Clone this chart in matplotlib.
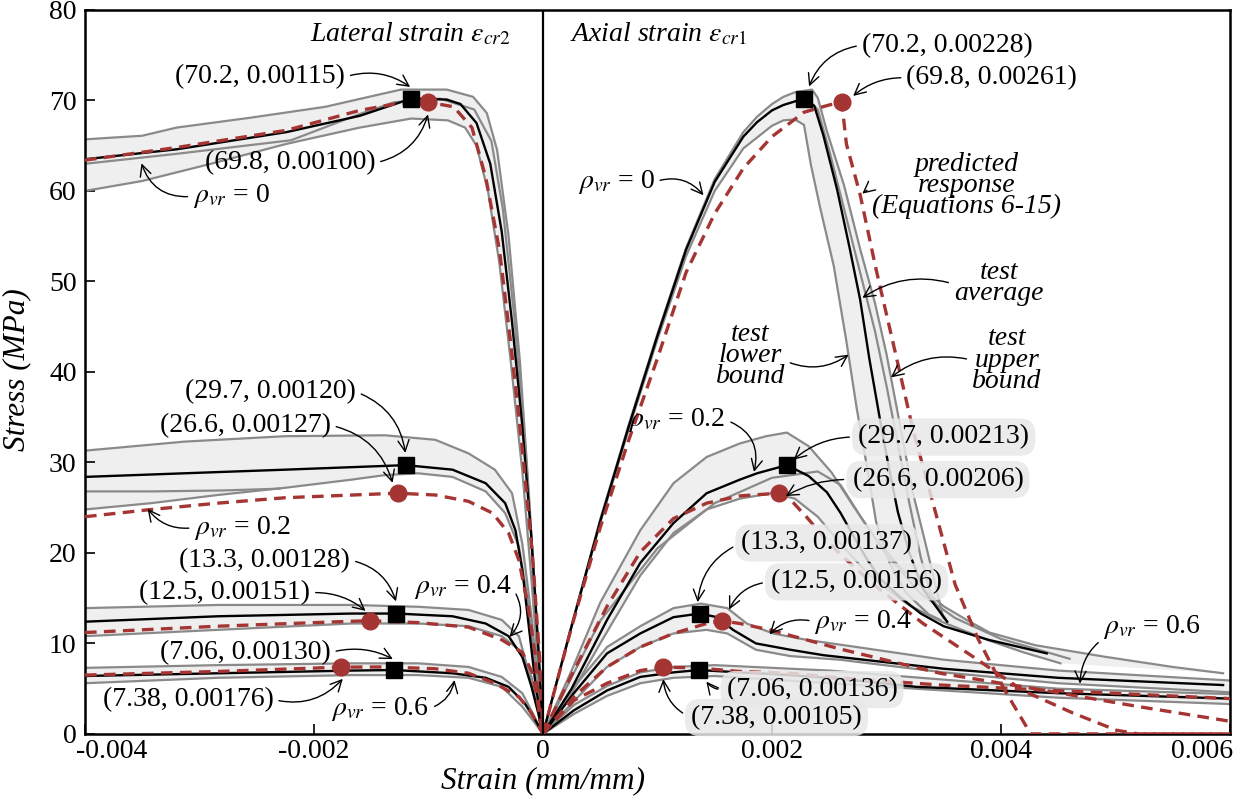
import matplotlib
matplotlib.use("Agg")
import matplotlib.pyplot as plt
import matplotlib.transforms as mtransforms

plt.rcParams['font.family'] = ['Liberation Serif', 'DejaVu Serif']
plt.rcParams['mathtext.fontset'] = 'stix'

# ---------------------------------------------------------------------------
# Stress-strain data: (strain mm/mm, stress MPa); lateral strains negative
# ---------------------------------------------------------------------------
# Lateral, rho_vr = 0
lat0_upper = [(-0.0040, 65.7), (-0.0035, 66.1), (-0.0032, 67.0), (-0.00255, 68.1), (-0.0019, 69.3),
              (-0.00145, 70.6), (-0.00124, 71.2), (-0.00084, 71.2), (-0.00061, 70.4), (-0.00049, 68.6),
              (-0.00040, 64.5), (-0.00030, 55.0), (-0.00020, 41.0), (-0.00012, 26.0), (-0.00006, 13.0), (0.0, 0.0)]
lat0_lower = [(-0.0040, 60.0), (-0.0035, 61.1), (-0.0029, 63.0), (-0.00224, 65.2), (-0.0016, 67.0),
              (-0.00115, 68.0), (-0.00083, 67.8), (-0.00068, 67.0), (-0.00058, 65.0), (-0.00048, 60.0),
              (-0.00038, 52.0), (-0.00028, 41.0), (-0.00018, 29.0), (-0.00010, 17.0), (-0.00004, 7.0), (0.0, 0.0)]
lat0_mid = [(-0.0040, 63.0), (-0.0032, 64.1), (-0.0022, 65.6), (-0.0016, 68.5), (-0.0013, 69.8), (-0.0009, 70.2),
            (-0.0006, 69.0), (-0.00045, 65.5), (-0.00035, 58.0), (-0.00025, 46.0), (-0.00015, 31.0),
            (-0.00007, 16.0), (0.0, 0.0)]
lat0_avg = [(-0.0040, 63.5), (-0.0032, 64.6), (-0.00224, 66.5), (-0.0016, 68.3), (-0.00115, 70.2),
            (-0.00084, 70.1), (-0.00072, 69.6), (-0.00058, 67.5), (-0.00046, 63.0), (-0.00036, 55.5),
            (-0.00027, 45.5), (-0.00018, 34.0), (-0.00010, 21.5), (-0.00004, 9.5), (0.0, 0.0)]
lat0_pred = [(-0.0040, 63.4), (-0.0032, 64.8), (-0.00224, 66.7), (-0.0016, 68.9), (-0.0013, 69.6),
             (-0.0010, 69.8), (-0.00078, 69.3), (-0.00062, 67.0), (-0.00050, 61.5), (-0.00038, 53.5),
             (-0.00028, 43.0), (-0.00018, 31.5), (-0.00009, 19.5), (-0.00003, 8.5), (0.0, 0.0)]

# Lateral, rho_vr = 0.2
lat2_upper = [(-0.0040, 31.3), (-0.00313, 32.3), (-0.00225, 32.9), (-0.00138, 33.0), (-0.00094, 32.5),
              (-0.00065, 31.0), (-0.00042, 29.2), (-0.00027, 26.6), (-0.00018, 21.0), (-0.00010, 13.0),
              (-0.00004, 5.0), (0.0, 0.0)]
lat2_lower = [(-0.0040, 24.8), (-0.00342, 25.5), (-0.00284, 26.4), (-0.00225, 27.2), (-0.00167, 28.1),
              (-0.00138, 28.6), (-0.00109, 28.8), (-0.00079, 28.4), (-0.00050, 26.8), (-0.00033, 24.4),
              (-0.00021, 20.7), (-0.00013, 14.5), (-0.00005, 5.2), (0.0, 0.0)]
lat2_mid = [(-0.0040, 26.8), (-0.0034, 26.8), (-0.0028, 26.9), (-0.0023, 27.1)]
lat2_avg = [(-0.0040, 28.4), (-0.00313, 28.8), (-0.00225, 29.2), (-0.0012, 29.7), (-0.00079, 29.2),
            (-0.0005, 27.7), (-0.00033, 25.5), (-0.00024, 22.5), (-0.00018, 18.1), (-0.00013, 12.6),
            (-0.00007, 6.0), (0.0, 0.0)]
lat2_pred = [(-0.0040, 24.0), (-0.00342, 24.8), (-0.00284, 25.5), (-0.00225, 26.1), (-0.00127, 26.6),
             (-0.00094, 26.4), (-0.00065, 25.7), (-0.00044, 24.4), (-0.0003, 22.2), (-0.00021, 19.2),
             (-0.00013, 14.1), (-0.00007, 9.0), (-0.00003, 1.7), (0.0, 0.0)]

# Lateral, rho_vr = 0.4
lat4_upper = [(-0.0040, 13.9), (-0.00284, 14.25), (-0.00167, 14.25), (-0.00109, 14.05), (-0.00065, 13.7),
              (-0.00036, 12.6), (-0.00021, 10.8), (-0.00013, 7.1), (-0.00005, 2.7), (0.0, 0.0)]
lat4_lower = [(-0.0040, 10.8), (-0.00284, 11.5), (-0.00167, 12.2), (-0.00109, 12.2), (-0.00065, 11.9),
              (-0.00036, 10.8), (-0.00021, 9.3), (-0.0001, 6.3), (-0.00004, 2.3), (0.0, 0.0)]
lat4_avg = [(-0.0040, 12.4), (-0.00284, 13.0), (-0.00167, 13.3), (-0.00128, 13.3), (-0.00079, 13.0),
            (-0.0005, 12.2), (-0.0003, 10.8), (-0.00018, 8.5), (-0.0001, 5.2), (-0.00004, 2.3), (0.0, 0.0)]
lat4_pred = [(-0.0040, 11.2), (-0.00284, 11.9), (-0.00167, 12.45), (-0.00151, 12.5), (-0.00109, 12.3),
             (-0.00065, 11.8), (-0.00036, 10.4), (-0.00018, 9.0), (-0.00009, 6.7), (-0.00003, 2.3), (0.0, 0.0)]

# Lateral, rho_vr = 0.6
lat6_upper = [(-0.0040, 7.3), (-0.00284, 7.6), (-0.00167, 7.8), (-0.00109, 7.8), (-0.00065, 7.4),
              (-0.00036, 6.3), (-0.00018, 4.5), (-0.00009, 2.3), (0.0, 0.0)]
lat6_lower = [(-0.0040, 5.6), (-0.00284, 6.2), (-0.00167, 6.5), (-0.00109, 6.5), (-0.00065, 6.2),
              (-0.00036, 5.2), (-0.00018, 3.0), (-0.00007, 1.2), (0.0, 0.0)]
lat6_avg = [(-0.0040, 6.4), (-0.00284, 6.7), (-0.00167, 7.0), (-0.0013, 7.06), (-0.00079, 6.7),
            (-0.0005, 6.2), (-0.0003, 5.2), (-0.00016, 3.4), (-0.00007, 1.6), (0.0, 0.0)]
lat6_pred = [(-0.0040, 6.5), (-0.00284, 6.9), (-0.00176, 7.38), (-0.00138, 7.4), (-0.00094, 7.2),
             (-0.00065, 6.7), (-0.00042, 5.6), (-0.00021, 4.1), (-0.0001, 2.3), (0.0, 0.0)]

# Axial, rho_vr = 0
ax0_upper = [(0.0, 0.0), (0.00025, 12.0), (0.0005, 23.7), (0.00075, 34.2), (0.001, 44.2), (0.00125, 53.7),
             (0.0015, 61.3), (0.00175, 66.5), (0.00187, 68.2), (0.002, 69.6), (0.0021, 70.4), (0.0022, 70.9),
             (0.00235, 71.2), (0.0024, 70.3), (0.00248, 66.6), (0.00263, 60.6), (0.00277, 53.6),
             (0.0029, 47.6), (0.0030, 42.0), (0.00314, 32.7), (0.00323, 26.7), (0.00334, 21.1),
             (0.00349, 13.2), (0.00353, 12.4)]
ax0_lower = [(0.0, 0.0), (0.00025, 11.8), (0.0005, 23.3), (0.00075, 33.7), (0.001, 43.6), (0.00125, 52.8),
             (0.0015, 60.0), (0.00175, 64.7), (0.002, 67.2), (0.0021, 67.8), (0.0022, 67.9), (0.00228, 67.3),
             (0.00234, 62.9), (0.00242, 58.2), (0.00254, 51.7), (0.00265, 43.4), (0.00274, 36.0),
             (0.00283, 29.5), (0.00291, 23.4), (0.00303, 18.8), (0.00317, 15.6), (0.00337, 13.2),
             (0.00347, 12.6)]
ax0_mid = [(0.00228, 70.5), (0.0024, 69.0), (0.0025, 64.5), (0.0026, 59.5), (0.0027, 54.5), (0.0028, 49.5),
           (0.0029, 44.5), (0.003, 38.5), (0.0031, 32.0), (0.0032, 25.5), (0.0033, 19.5), (0.0034, 15.0),
           (0.0035, 12.8)]
ax0_avg = [(0.0, 0.0), (0.00025, 11.9), (0.0005, 23.5), (0.00075, 34.0), (0.001, 44.0), (0.00125, 53.5),
           (0.0015, 61.0), (0.00175, 66.0), (0.00187, 67.6), (0.002, 68.9), (0.0021, 69.5), (0.00228, 70.2),
           (0.00237, 69.4), (0.00245, 66.1), (0.00257, 60.1), (0.00268, 53.6), (0.00277, 48.0),
           (0.00285, 41.5), (0.00294, 35.0), (0.00302, 29.5), (0.0031, 24.5), (0.0032, 20.0),
           (0.00332, 16.0), (0.00353, 12.4)]
ax0_pred = [(0.0, 0.0), (0.00025, 11.8), (0.0005, 22.8), (0.00075, 32.5), (0.001, 41.5), (0.00125, 51.0),
            (0.0015, 57.5), (0.00175, 62.5), (0.002, 66.0), (0.00228, 68.7), (0.0025, 69.5), (0.00261, 69.8),
            (0.00265, 65.2), (0.00277, 59.6), (0.00291, 51.3), (0.00308, 42.0), (0.00323, 33.7),
            (0.0034, 25.8), (0.0036, 16.5), (0.0038, 10.5), (0.00403, 4.9), (0.00426, 0.0), (0.006, 0.0)]

# Axial, rho_vr = 0.2
ax2_upper = [(0.0, 0.0), (0.00025, 7.0), (0.0005, 14.5), (0.00085, 22.5), (0.00114, 27.7), (0.00143, 30.6),
             (0.00172, 32.1), (0.00195, 32.9), (0.00213, 33.3), (0.00232, 31.8), (0.00252, 28.9),
             (0.00271, 25.2), (0.00291, 21.5), (0.00311, 18.5), (0.0033, 16.3), (0.0035, 14.1),
             (0.0037, 12.6), (0.0039, 11.2), (0.0043, 9.8), (0.00492, 8.5), (0.0055, 7.4), (0.00594, 6.7)]
ax2_lower = [(0.0, 0.0), (0.00025, 4.5), (0.0005, 10.0), (0.00085, 17.5), (0.00114, 22.2), (0.00143, 24.8),
             (0.00172, 26.0), (0.002, 26.6), (0.0022, 26.0), (0.0024, 24.0), (0.0026, 21.0), (0.0028, 18.2),
             (0.003, 16.0), (0.0032, 14.2), (0.0035, 12.3), (0.0039, 10.3), (0.0042, 9.0), (0.00452, 7.8)]
ax2_mid = [(0.0, 0.0), (0.0005, 12.5), (0.001, 20.5), (0.0015, 25.5), (0.002, 28.3), (0.0024, 29.0),
           (0.0026, 27.5), (0.0028, 23.5), (0.003, 19.8), (0.0033, 15.5), (0.0036, 12.8), (0.004, 10.5),
           (0.0046, 8.3)]
ax2_avg = [(0.0, 0.0), (0.00025, 5.0), (0.00056, 12.6), (0.00085, 18.9), (0.00114, 23.3), (0.00143, 26.6),
           (0.00172, 28.1), (0.00187, 28.8), (0.00213, 29.7), (0.00232, 28.5), (0.00248, 26.7),
           (0.0026, 24.4), (0.00271, 21.9), (0.00283, 19.3), (0.00295, 17.1), (0.00311, 15.2),
           (0.0033, 13.3), (0.0035, 11.9), (0.00389, 10.4), (0.0044, 8.9)]
ax2_pred = [(0.0, 0.0), (0.00025, 6.5), (0.00056, 14.1), (0.00085, 20.1), (0.00114, 23.8), (0.00143, 25.5),
            (0.00172, 26.3), (0.00206, 26.6), (0.00219, 25.5), (0.0023, 24.0), (0.00245, 21.8),
            (0.0026, 19.8), (0.0029, 16.4), (0.00332, 12.2), (0.00376, 8.5), (0.00419, 4.8),
            (0.00463, 2.3), (0.00501, 0.4), (0.0052, 0.0), (0.006, 0.0)]

# Axial, rho_vr = 0.4
ax4_upper = [(0.0, 0.0), (0.00027, 5.2), (0.00056, 9.6), (0.00085, 11.9), (0.00114, 13.9), (0.00138, 14.4),
             (0.00161, 13.9), (0.00178, 12.2), (0.00201, 11.1), (0.0023, 10.4), (0.00274, 9.6),
             (0.0035, 8.2), (0.0045, 7.0), (0.006, 5.9)]
ax4_lower = [(0.0, 0.0), (0.00027, 3.6), (0.00056, 7.4), (0.00085, 9.6), (0.00114, 11.1), (0.00143, 11.5),
             (0.00161, 11.1), (0.00186, 9.3), (0.00216, 8.6), (0.00259, 8.2), (0.0035, 6.8), (0.0045, 5.6),
             (0.006, 4.6)]
ax4_avg = [(0.0, 0.0), (0.00027, 4.5), (0.00056, 8.9), (0.00085, 11.1), (0.00114, 12.9), (0.00137, 13.3),
           (0.00152, 12.9), (0.00166, 11.5), (0.00186, 10.0), (0.00216, 9.3), (0.00245, 8.7),
           (0.0028, 8.2), (0.0035, 7.2), (0.0045, 6.2), (0.00594, 5.4)]
ax4_pred = [(0.0, 0.0), (0.00027, 4.1), (0.00056, 7.4), (0.00085, 9.6), (0.00114, 11.1), (0.00143, 12.2),
            (0.00156, 12.5), (0.00172, 12.2), (0.00198, 11.5), (0.0023, 10.4), (0.00259, 9.4),
            (0.00347, 6.7), (0.00434, 4.9), (0.00521, 3.0), (0.006, 1.4)]

# Axial, rho_vr = 0.6
ax6_upper = [(0.0, 0.0), (0.00027, 3.2), (0.00056, 5.3), (0.00085, 6.8), (0.00114, 7.4), (0.0015, 7.6),
             (0.0025, 7.0), (0.0035, 6.0), (0.0045, 5.0), (0.006, 4.4)]
ax6_lower = [(0.0, 0.0), (0.00027, 2.2), (0.00056, 4.2), (0.00085, 5.6), (0.00114, 6.2), (0.0015, 6.4),
             (0.0025, 5.6), (0.0035, 4.8), (0.0045, 4.0), (0.006, 3.3)]
ax6_avg = [(0.0, 0.0), (0.00027, 2.6), (0.00056, 4.8), (0.00085, 6.3), (0.00114, 6.8), (0.00136, 7.06),
           (0.00172, 6.8), (0.00216, 6.5), (0.00259, 6.1), (0.00326, 5.2), (0.0045, 4.5), (0.006, 3.9)]
ax6_pred = [(0.0, 0.0), (0.00027, 3.7), (0.00056, 5.6), (0.00085, 7.0), (0.00105, 7.38), (0.00133, 7.3),
            (0.00172, 6.9), (0.00216, 6.7), (0.00259, 6.2), (0.00347, 5.4), (0.00463, 4.7), (0.006, 3.9)]

# Peak points: (stress MPa, strain mm/mm)
lat_peak_avg = [(70.2, -0.00115), (29.7, -0.00120), (13.3, -0.00128), (7.06, -0.00130)]
lat_peak_pred = [(69.8, -0.00100), (26.6, -0.00127), (12.5, -0.00151), (7.38, -0.00176)]
ax_peak_avg = [(70.2, 0.00228), (29.7, 0.00213), (13.3, 0.00137), (7.06, 0.00136)]
ax_peak_pred = [(69.8, 0.00261), (26.6, 0.00206), (12.5, 0.00156), (7.38, 0.00105)]

x_ticks = [-0.004, -0.002, 0, 0.002, 0.004, 0.006]
x_tick_labels = ['-0.004', '-0.002', '0', '0.002', '0.004', '0.006']
y_ticks = [0, 10, 20, 30, 40, 50, 60, 70, 80]

# ---------------------------------------------------------------------------
GRAY = '#8a8a8a'
FILL = '#efefef'
RED = '#a53533'
FS = 20

fig = plt.figure(figsize=(12.4, 7.96), dpi=100)
ax = fig.add_axes([0.0685, 0.078, 0.9234, 0.9095])


def xs(c):
    return [p[0] for p in c]


def ys(c):
    return [p[1] for p in c]


def band(upper, lower):
    px = xs(upper) + xs(lower)[::-1]
    py = ys(upper) + ys(lower)[::-1]
    ax.fill(px, py, color=FILL, lw=0, zorder=1)


groups = [
    (lat0_upper, lat0_lower, [lat0_mid], lat0_avg, lat0_pred),
    (lat2_upper, lat2_lower, [lat2_mid], lat2_avg, lat2_pred),
    (lat4_upper, lat4_lower, [], lat4_avg, lat4_pred),
    (lat6_upper, lat6_lower, [], lat6_avg, lat6_pred),
    (ax0_upper, ax0_lower, [ax0_mid], ax0_avg, ax0_pred),
    (ax2_upper, ax2_lower, [ax2_mid], ax2_avg, ax2_pred),
    (ax4_upper, ax4_lower, [], ax4_avg, ax4_pred),
    (ax6_upper, ax6_lower, [], ax6_avg, ax6_pred),
]

for up, lo, mids, avg, pred in groups:
    band(up, lo)
for up, lo, mids, avg, pred in groups:
    for c in [up, lo] + mids:
        ax.plot(xs(c), ys(c), color=GRAY, lw=1.6, zorder=2, solid_joinstyle='round')
for up, lo, mids, avg, pred in groups:
    ax.plot(xs(avg), ys(avg), color='black', lw=1.7, zorder=3, solid_joinstyle='round')
for up, lo, mids, avg, pred in groups:
    ax.plot(xs(pred), ys(pred), color=RED, lw=2.4, ls=(0, (3.5, 2.2)), zorder=4)

for s, e in lat_peak_avg + ax_peak_avg:
    ax.plot(e, s, 's', color='black', ms=12, zorder=6)
for s, e in lat_peak_pred + ax_peak_pred:
    ax.plot(e, s, 'o', color=RED, ms=12, zorder=5)

ax.axvline(0, color='black', lw=1.6, zorder=7)

ax.set_xlim(-0.004, 0.006)
ax.set_ylim(0, 80)
ax.set_xticks(x_ticks)
ax.set_xticklabels(x_tick_labels)
ax.set_yticks(y_ticks)
ax.tick_params(direction='in', length=7, width=1.2, labelsize=FS)
ax.tick_params(axis='x', pad=4)
ax.tick_params(axis='y', pad=6)
for sp in ax.spines.values():
    sp.set_linewidth(1.8)

labels = ax.get_xticklabels()
labels[0].set_horizontalalignment('left')
labels[0].set_transform(labels[0].get_transform() + mtransforms.ScaledTranslation(-9 / 100, 0, fig.dpi_scale_trans))
labels[-1].set_horizontalalignment('right')
labels[-1].set_transform(labels[-1].get_transform() + mtransforms.ScaledTranslation(3 / 100, 0, fig.dpi_scale_trans))

ax.set_xlabel('Strain (mm/mm)', fontsize=22.5, style='italic')
ax.xaxis.set_label_coords(0.4, -0.045)
ax.set_ylabel('Stress (MPa)', fontsize=22.5, style='italic')
ax.yaxis.set_label_coords(-0.047, 0.503)

ax.text(-0.00028, 77.3, r'Lateral strain $\varepsilon_{\mathit{cr2}}$', fontsize=FS, style='italic',
        ha='right', va='center', zorder=8)
ax.text(0.00024, 77.3, r'Axial strain $\varepsilon_{\mathit{cr1}}$', fontsize=FS, style='italic',
        ha='left', va='center', zorder=8)

BOX = dict(boxstyle='round,pad=0.22,rounding_size=0.55', fc='#e8e8e8', ec='none', alpha=0.85)


def note(txt, xy, xytext, rad, rel=(1, 0.5), box=False, italic=False, ha='center', size=FS, ls=1.0):
    ax.annotate(txt, xy=xy, xytext=xytext, fontsize=size, ha=ha, va='center',
                style='italic' if italic else 'normal', linespacing=ls,
                bbox=BOX if box else None, zorder=9,
                arrowprops=dict(arrowstyle='->', color='black', lw=1.0, shrinkA=2, shrinkB=1,
                                relpos=rel, connectionstyle=f'arc3,rad={rad}'))


def peak_txt(p):
    return f'({p[0]:.3g}, {abs(p[1]):.5f})'


# lateral-side labels
note(peak_txt(lat_peak_avg[0]), (-0.00115, 71.4), (-0.00247, 72.6), -0.25)
note(peak_txt(lat_peak_pred[0]), (-0.00100, 68.6), (-0.00221, 63.1), 0.3)
note(r'$\rho_{vr}$ = 0', (-0.00351, 63.2), (-0.00272, 59.4), -0.4, rel=(0, 0.5))
note(peak_txt(lat_peak_avg[1]), (-0.00120, 30.9), (-0.00238, 37.8), -0.3)
note(peak_txt(lat_peak_pred[1]), (-0.00131, 27.6), (-0.00260, 34.1), -0.3)
note(r'$\rho_{vr}$ = 0.2', (-0.00346, 25.0), (-0.00262, 22.8), -0.3, rel=(0, 0.5))
note(peak_txt(lat_peak_avg[2]), (-0.00128, 14.5), (-0.00243, 19.2), -0.3)
note(peak_txt(lat_peak_pred[2]), (-0.00154, 13.5), (-0.00278, 15.6), -0.2)
note(r'$\rho_{vr}$ = 0.4', (-0.00030, 10.6), (-0.00070, 16.2), -0.4)
note(peak_txt(lat_peak_avg[3]), (-0.00130, 8.2), (-0.00260, 9.0), -0.2)
note(peak_txt(lat_peak_pred[3]), (-0.00174, 6.2), (-0.00310, 3.8), 0.3)
note(r'$\rho_{vr}$ = 0.6', (-0.00077, 6.1), (-0.00142, 2.8), 0.3)

# axial-side labels
note(peak_txt(ax_peak_avg[0]), (0.00232, 71.4), (0.00353, 76.1), 0.3, rel=(0, 0.5))
note(peak_txt(ax_peak_pred[0]), (0.00270, 70.4), (0.00392, 72.5), 0.2, rel=(0, 0.5))
note(r'$\rho_{vr}$ = 0', (0.00141, 59.4), (0.00064, 61.0), -0.35)
note('predicted\nresponse\n(Equations 6-15)', (0.00278, 59.6), (0.00370, 60.6), 0.2, rel=(0.1, 0.52),
     italic=True, ls=0.8)
note('test\naverage', (0.00278, 48.1), (0.00398, 49.8), 0.25, rel=(0.05, 0.45), italic=True, ls=0.8)
note('test\nupper\nbound', (0.00303, 39.3), (0.00405, 41.3), 0.25, rel=(0.0, 0.5), italic=True, ls=0.8)
note('test\nlower\nbound', (0.00268, 42.0), (0.00181, 41.8), 0.3, rel=(0.95, 0.45), italic=True, ls=0.8)
note(r'$\rho_{vr}$ = 0.2', (0.00184, 28.8), (0.00117, 34.7), -0.45)
note(peak_txt(ax_peak_avg[1]), (0.00218, 30.2), (0.00350, 32.8), 0.2, rel=(0, 0.5), box=True)
note(peak_txt(ax_peak_pred[1]), (0.00211, 26.2), (0.00345, 28.1), 0.15, rel=(0, 0.5), box=True)
note(peak_txt(ax_peak_avg[2]), (0.00135, 14.4), (0.00248, 21.1), 0.3, rel=(0, 0.5), box=True)
note(peak_txt(ax_peak_pred[2]), (0.00162, 13.6), (0.00274, 16.8), 0.3, rel=(0, 0.5), box=True)
note(r'$\rho_{vr}$ = 0.4', (0.00197, 10.9), (0.00280, 12.4), 0.3, rel=(0, 0.5))
note(r'$\rho_{vr}$ = 0.6', (0.00469, 5.4), (0.00532, 11.8), 0.3, rel=(0.1, 0.3))
note(peak_txt(ax_peak_avg[3]), (0.00142, 5.9), (0.00235, 4.9), -0.3, rel=(0, 0.5), box=True)
note(peak_txt(ax_peak_pred[3]), (0.00105, 6.2), (0.00204, 1.8), -0.3, rel=(0, 0.5), box=True)

fig.savefig('out.png', dpi=100)
